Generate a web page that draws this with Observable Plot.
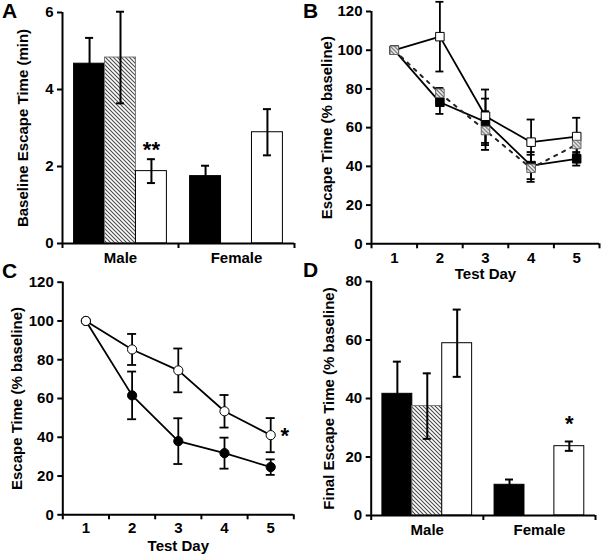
<!DOCTYPE html>
<html>
<head>
<meta charset="utf-8">
<script src="https://cdn.jsdelivr.net/npm/d3@7"></script>
<script src="https://cdn.jsdelivr.net/npm/@observablehq/plot@0.6"></script>
<style>
  html, body { margin: 0; padding: 0; background: #fff; }
  #fig { position: relative; width: 601px; height: 554px; background: #fff; overflow: hidden; }
  #fig > svg { position: absolute; }
  .letter { position: absolute; font: bold 21px "Liberation Sans", Arial, sans-serif; line-height: 1; color: #000; }
</style>
</head>
<body>
<div id="fig">
  <div class="letter" style="left:2px;top:0px">A</div>
  <div class="letter" style="left:303px;top:0px">B</div>
  <div class="letter" style="left:2px;top:260px">C</div>
  <div class="letter" style="left:303px;top:259px">D</div>
</div>
<script>
// ---------------- data ----------------
const sexes = ["Male", "Female"];
const treatments = ["solid", "hatched", "open"];

// Panel A: baseline escape time (min)
const baselineMale = [4.67, 4.83, 1.88];
const baselineMaleSE = [0.67, 1.19, 0.31];
const baselineFemale = [1.75, null, 2.89];
const baselineFemaleSE = [0.27, null, 0.60];
const yTicksA = [0, 2, 4, 6];

// Panel B: escape time (% baseline) by test day, three groups
const days = [1, 2, 3, 4, 5];
const bSolid = [100, 73.1, 63.0, 40.4, 43.9];
const bSolidSE = [0, 6.0, 12.0, 7.0, 3.5];
const bHatched = [100, 77.8, 58.5, 39.0, 51.3];
const bHatchedSE = [0, 2.7, 10.0, 7.0, 5.0];
const bOpen = [100, 107.0, 65.9, 52.5, 55.4];
const bOpenSE = [0, 18.0, 13.8, 11.7, 9.7];
const yTicksB = [0, 20, 40, 60, 80, 100, 120];

// Panel C: escape time (% baseline), two groups
const cFilled = [100, 61.6, 38.0, 31.8, 24.6];
const cFilledSE = [0, 12.3, 11.8, 8.0, 4.0];
const cOpen = [100, 85.3, 74.5, 53.4, 41.1];
const cOpenSE = [0, 8.0, 11.3, 8.4, 8.8];
const yTicksC = [0, 20, 40, 60, 80, 100, 120];

// Panel D: final escape time (% baseline)
const finalMale = [41.6, 37.4, 58.9];
const finalMaleSE = [11.0, 11.2, 11.5];
const finalFemale = [10.5, null, 23.7];
const finalFemaleSE = [1.8, null, 1.6];
const yTicksD = [0, 20, 40, 60, 80];

// ---------------- helpers ----------------
const style = {
  fontFamily: "'Liberation Sans', Arial, Helvetica, sans-serif",
  fontSize: "15px",
  fontWeight: "bold",
  background: "transparent",
  overflow: "visible",
  color: "#000"
};
const intFmt = d3.format("d");
const PAD = 0.1, BW = (1 - 2 * PAD) / 3;

function barRows(male, maleSE, female, femaleSE) {
  const rows = [];
  [[male, maleSE], [female, femaleSE]].forEach(([vals, ses], g) => {
    vals.forEach((v, t) => {
      if (v == null) return;
      const x1 = g + PAD + t * BW;
      rows.push({sex: sexes[g], treatment: treatments[t], t, value: v, se: ses[t], x1, x2: x1 + BW, xm: x1 + BW / 2});
    });
  });
  return rows;
}
function seriesRows(vals, ses) {
  return days.map((d, i) => ({day: d, value: vals[i], se: ses[i]}));
}
function errorMarks(rows, xAcc, cap, sw) {
  const r = rows.filter(d => d.se > 0);
  return [
    Plot.ruleX(r, {x: xAcc, y1: d => d.value - d.se, y2: d => d.value + d.se, stroke: "black", strokeWidth: sw}),
    Plot.ruleY(r, {y: d => d.value + d.se, x1: xAcc, x2: xAcc, insetLeft: -cap, insetRight: -cap, stroke: "black", strokeWidth: sw}),
    Plot.ruleY(r, {y: d => d.value - d.se, x1: xAcc, x2: xAcc, insetLeft: -cap, insetRight: -cap, stroke: "black", strokeWidth: sw})
  ];
}
function addHatch(svg, id) {
  svg.insertAdjacentHTML("afterbegin",
    `<defs><pattern id="${id}" patternUnits="userSpaceOnUse" width="4" height="4">` +
    `<rect width="4" height="4" fill="#fff"/>` +
    `<path d="M-1,-1L5,5M-1,3L1,5M3,-1L5,1" stroke="#4a4a4a" stroke-width="1.1"/></pattern></defs>`);
}
function barPanel(rows, opts) {
  const fills = ["black", `url(#${opts.hatch})`, "white"];
  const strokes = ["black", "#777", "black"];
  const groupBounds = d3.range(sexes.length + 1);
  const groupCenters = sexes.map((s, i) => i + 0.5);
  const marks = [];
  treatments.forEach((tr, t) => {
    marks.push(Plot.rectY(rows.filter(d => d.t === t), {x1: "x1", x2: "x2", y1: 0, y2: "value", fill: fills[t], stroke: strokes[t], strokeWidth: 1}));
  });
  marks.push(...errorMarks(rows, "xm", 4, 2));
  marks.push(
    Plot.ruleX([0], {stroke: "black", strokeWidth: 2}),
    Plot.ruleY([0], {stroke: "black", strokeWidth: 2}),
    Plot.axisY({ticks: opts.yTicks, tickFormat: intFmt, tickSize: 5, tickPadding: 4, strokeWidth: 2, label: opts.ylabel, labelAnchor: "center", labelOffset: opts.labelOffset, labelArrow: "none"}),
    Plot.axisX({ticks: groupBounds, tickSize: 5, strokeWidth: 2, tickFormat: () => "", label: null}),
    Plot.axisX({ticks: groupCenters, tickSize: 0, tickPadding: 9, tickFormat: v => sexes[Math.floor(v)], label: null}),
    Plot.text(rows.filter(d => opts.stars[d.sex + d.treatment]), {x: "xm", y: d => d.value + d.se, text: d => opts.stars[d.sex + d.treatment], dy: opts.starDy, fontSize: 22, fontWeight: "bold", lineAnchor: "middle"})
  );
  const svg = Plot.plot({
    width: opts.width, height: opts.height,
    marginLeft: opts.ml, marginRight: opts.mr, marginTop: opts.mt, marginBottom: opts.mb,
    x: {domain: [0, sexes.length]},
    y: {domain: [opts.yTicks[0], opts.yTicks[opts.yTicks.length - 1]]},
    style,
    marks
  });
  addHatch(svg, opts.hatch);
  return svg;
}

const fig = document.getElementById("fig");
function place(svg, left, top) {
  svg.style.left = left + "px";
  svg.style.top = top + "px";
  fig.appendChild(svg);
}

// ---------------- Panel A ----------------
const rowsA = barRows(baselineMale, baselineMaleSE, baselineFemale, baselineFemaleSE);
place(barPanel(rowsA, {
  width: 300, height: 290, ml: 62, mr: 6, mt: 12, mb: 47,
  yTicks: yTicksA, ylabel: "Baseline Escape Time (min)", labelOffset: 45,
  hatch: "hatchA", stars: {"Maleopen": "**"}, starDy: -9
}), 0, 0);

// ---------------- Panel B ----------------
{
  const s = seriesRows(bSolid, bSolidSE), h = seriesRows(bHatched, bHatchedSE), o = seriesRows(bOpen, bOpenSE);
  const bounds = days.map(d => d - 0.5).concat([days[days.length - 1] + 0.5]);
  const svg = Plot.plot({
    width: 301, height: 290, marginLeft: 71, marginRight: 2, marginTop: 11, marginBottom: 46.7,
    x: {domain: [bounds[0], bounds[bounds.length - 1]]},
    y: {domain: [0, 120]},
    style,
    marks: [
      Plot.ruleX([bounds[0]], {stroke: "black", strokeWidth: 2}),
      Plot.ruleY([0], {stroke: "black", strokeWidth: 2}),
      Plot.axisY({ticks: yTicksB, tickFormat: intFmt, tickSize: 5, tickPadding: 4, strokeWidth: 2, label: "Escape Time (% baseline)", labelAnchor: "center", labelOffset: 50, labelArrow: "none"}),
      Plot.axisX({ticks: bounds, tickSize: 5, strokeWidth: 2, tickFormat: () => "", label: null}),
      Plot.axisX({ticks: days, tickFormat: intFmt, tickSize: 0, tickPadding: 9, label: "Test Day", labelAnchor: "center", labelOffset: 35, labelArrow: "none"}),
      Plot.line(s, {x: "day", y: "value", stroke: "black", strokeWidth: 1.8}),
      Plot.line(o, {x: "day", y: "value", stroke: "black", strokeWidth: 1.8}),
      Plot.line(h, {x: "day", y: "value", stroke: "#222", strokeWidth: 2, strokeDasharray: "3,6"}),
      ...errorMarks(s, "day", 4, 1.8),
      ...errorMarks(o, "day", 4, 1.8),
      ...errorMarks(h, "day", 4, 1.8),
      Plot.dot(s, {x: "day", y: "value", symbol: "square", r: 4.8, fill: "black", stroke: "black", strokeWidth: 1}),
      Plot.dot(o, {x: "day", y: "value", symbol: "square", r: 4.8, fill: "white", stroke: "black", strokeWidth: 1}),
      Plot.dot(h, {x: "day", y: "value", symbol: "square", r: 4.8, fill: "url(#hatchB)", stroke: "#666", strokeWidth: 1})
    ]
  });
  addHatch(svg, "hatchB");
  place(svg, 300, 0);
}

// ---------------- Panel C ----------------
{
  const f = seriesRows(cFilled, cFilledSE), o = seriesRows(cOpen, cOpenSE);
  const bounds = days.map(d => d - 0.5).concat([days[days.length - 1] + 0.5]);
  const svg = Plot.plot({
    width: 300, height: 279, marginLeft: 62.3, marginRight: 6.7, marginTop: 6.7, marginBottom: 39.7,
    x: {domain: [bounds[0], bounds[bounds.length - 1]]},
    y: {domain: [0, 120]},
    style,
    marks: [
      Plot.ruleX([bounds[0]], {stroke: "black", strokeWidth: 2}),
      Plot.ruleY([0], {stroke: "black", strokeWidth: 2}),
      Plot.axisY({ticks: yTicksC, tickFormat: intFmt, tickSize: 5, tickPadding: 4, strokeWidth: 2, label: "Escape Time (% baseline)", labelAnchor: "center", labelOffset: 51, labelArrow: "none"}),
      Plot.axisX({ticks: bounds, tickSize: 5, strokeWidth: 2, tickFormat: () => "", label: null}),
      Plot.axisX({ticks: days, tickFormat: intFmt, tickSize: 0, tickPadding: 8, label: "Test Day", labelAnchor: "center", labelOffset: 36, labelArrow: "none"}),
      Plot.line(f, {x: "day", y: "value", stroke: "black", strokeWidth: 1.8}),
      Plot.line(o, {x: "day", y: "value", stroke: "black", strokeWidth: 1.8}),
      ...errorMarks(f, "day", 4.5, 1.8),
      ...errorMarks(o, "day", 4.5, 1.8),
      Plot.dot(f, {x: "day", y: "value", r: 4.6, fill: "black", stroke: "black", strokeWidth: 1}),
      Plot.dot(o, {x: "day", y: "value", r: 4.6, fill: "white", stroke: "black", strokeWidth: 1}),
      Plot.text(o.slice(-1), {x: "day", y: "value", text: () => "*", dx: 14, dy: 1, fontSize: 22, fontWeight: "bold", lineAnchor: "middle"})
    ]
  });
  place(svg, 0, 275);
}

// ---------------- Panel D ----------------
const rowsD = barRows(finalMale, finalMaleSE, finalFemale, finalFemaleSE);
place(barPanel(rowsD, {
  width: 301, height: 279, ml: 70.7, mr: 6, mt: 6, mb: 39,
  yTicks: yTicksD, ylabel: "Final Escape Time (% baseline)", labelOffset: 48,
  hatch: "hatchD", stars: {"Femaleopen": "*"}, starDy: -18
}), 300, 275);
</script>
</body>
</html>
